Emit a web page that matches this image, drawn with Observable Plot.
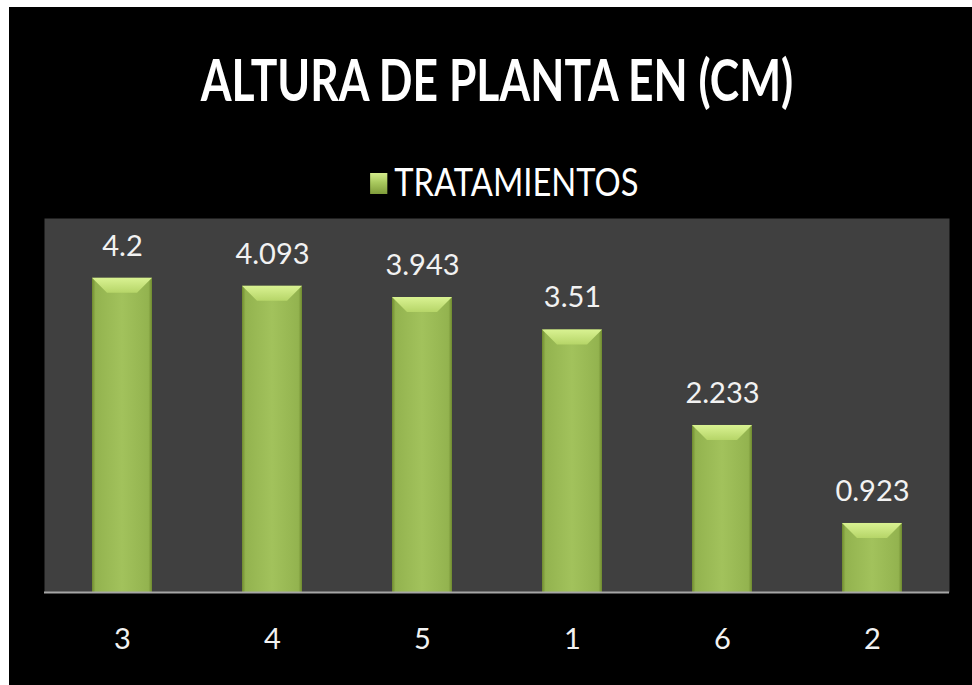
<!DOCTYPE html>
<html>
<head>
<meta charset="utf-8">
<script src="https://cdn.jsdelivr.net/npm/d3@7"></script>
<script src="https://cdn.jsdelivr.net/npm/@observablehq/plot@0.6"></script>
<style>
  html, body { margin: 0; padding: 0; background: #fff; }
  #wrap { position: absolute; left: 9px; top: 7px; width: 963px; height: 678px; background: #000; overflow: hidden; }
  #title { position: absolute; left: 0; top: 40px; width: 976px; text-align: center; color: #fff;
           font-family: Lato, sans-serif; font-weight: bold; font-size: 58px; line-height: 64px;
           transform: scaleX(0.765); transform-origin: 488px 0; }
  #legend { position: absolute; left: 0; top: 152px; width: 990px; text-align: center; color: #fff;
            font-family: Lato, sans-serif; font-size: 38px; line-height: 44px;
            transform: scaleX(0.86); transform-origin: 497px 0; white-space: nowrap; }
  #legend .sw { display: inline-block; width: 20px; height: 21px; margin-right: 8px; vertical-align: 2px;
                background: linear-gradient(180deg, #d4ec8c 0%, #a9c95e 45%, #7f9c3a 100%); }
  #chart { position: absolute; left: 0; top: 193px; }
</style>
</head>
<body>
<div id="wrap">
  <div id="title">ALTURA DE PLANTA EN (CM)</div>
  <div id="legend"><span class="sw"></span>TRATAMIENTOS</div>
  <div id="chart"></div>
</div>
<script>
const categories = ["3", "4", "5", "1", "6", "2"];
const values = [4.2, 4.093, 3.943, 3.51, 2.233, 0.923];
const labels = ["4.2", "4.093", "3.943", "3.51", "2.233", "0.923"];

const data = categories.map((c, i) => ({ cat: c, value: values[i], label: labels[i] }));

const defs = () => {
  const svgNS = "http://www.w3.org/2000/svg";
  const g = document.createElementNS(svgNS, "g");
  g.innerHTML = `<defs>
    <linearGradient id="barGrad" x1="0" x2="1" y1="0" y2="0">
      <stop offset="0" stop-color="#6f8a2f"/>
      <stop offset="0.06" stop-color="#93b34f"/>
      <stop offset="0.5" stop-color="#a2c25c"/>
      <stop offset="0.94" stop-color="#93b34f"/>
      <stop offset="1" stop-color="#6f8a2f"/>
    </linearGradient>
    <linearGradient id="bevGrad" x1="0" x2="0" y1="0" y2="1">
      <stop offset="0" stop-color="#d9f292"/>
      <stop offset="1" stop-color="#b6d568"/>
    </linearGradient>
  </defs>`;
  return g;
};

const chart = Plot.plot({
  width: 963,
  height: 485,
  marginLeft: 35,
  marginRight: 23,
  marginTop: 18,
  marginBottom: 93,
  style: { background: "transparent", color: "#fff", fontFamily: "Lato, sans-serif" },
  x: { domain: categories, paddingInner: 0.6, paddingOuter: 0.3, label: null, tickSize: 0, tickPadding: 34 },
  y: { domain: [0, 5], axis: null },
  marks: [
    defs,
    Plot.frame({ fill: "#404040", stroke: null }),
    Plot.barY(data, { x: "cat", y: "value", fill: "url(#barGrad)" }),
    Plot.ruleY([0], { stroke: "#a6a6a6", strokeWidth: 2 }),
    Plot.text(data, { x: "cat", y: "value", text: "label", dy: -32, fill: "#f2f2f2", fontSize: 29 }),
    Plot.axisX({ tickSize: 0, tickPadding: 36, fontSize: 29, fill: "#f2f2f2", label: null })
  ]
});
document.getElementById("chart").appendChild(chart);

// bevel on top of each bar, positioned from the rects Plot produced
const svg = d3.select(chart);
svg.selectAll("rect").filter(function () { return this.getAttribute("fill") === "url(#barGrad)" || (this.parentNode && this.parentNode.getAttribute("fill") === "url(#barGrad)"); })
  .each(function () {
    const x = +this.getAttribute("x"), y = +this.getAttribute("y"),
          w = +this.getAttribute("width"), h = +this.getAttribute("height");
    const b = Math.min(15, h / 2);
    d3.select(this.parentNode).append("polygon")
      .attr("points", `${x},${y} ${x + w},${y} ${x + w - b},${y + b} ${x + b},${y + b}`)
      .attr("fill", "url(#bevGrad)");
  });
</script>
</body>
</html>
